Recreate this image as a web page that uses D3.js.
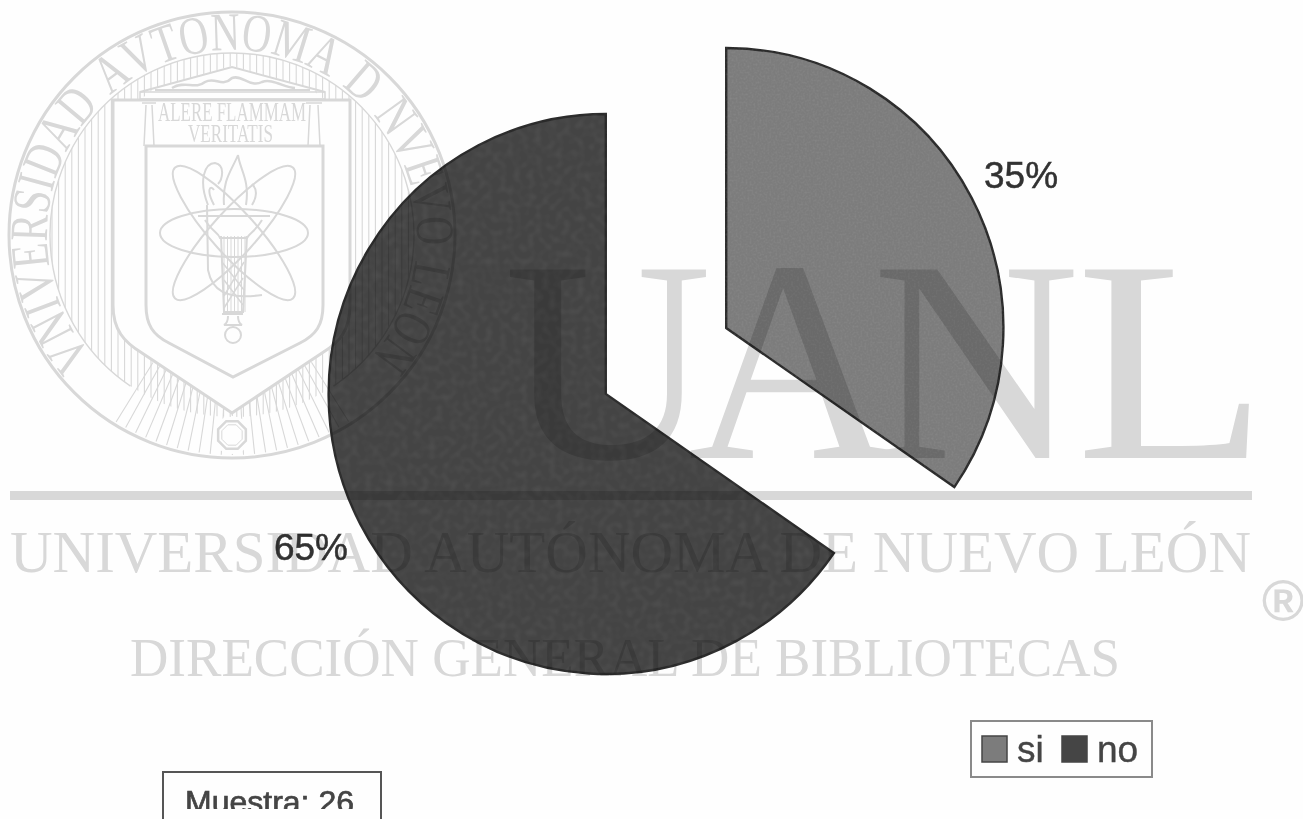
<!DOCTYPE html>
<html><head><meta charset="utf-8">
<script src="https://cdn.jsdelivr.net/npm/d3@7/dist/d3.min.js"></script>
<style>html,body{margin:0;padding:0;background:#fefefe;overflow:hidden}svg{display:block}</style>
</head><body><div id="c"></div>
<script>
const categories = ["si", "no"];
const values = [9, 17];
const colors = ["#7c7c7c", "#444444"];
const sampleLabel = "Muestra: 26";
const wmBig = ["U", "A", "N", "L"];
const wmBigX = [504, 688, 872, 1076];
const wmBigStretch = [1, 1, 1, 1.09];
const wmLine1 = "UNIVERSIDAD AUTÓNOMA DE NUEVO LEÓN";
const wmLine2 = "DIRECCIÓN GENERAL DE BIBLIOTECAS";
const sealRing = "VNIVERSIDAD AVTONOMA D NVEVO LEON";

const W = 1303, H = 819, WM = "#d9d9d9";
const serif = "'Liberation Serif','Times New Roman',serif";
const sans = "'Liberation Sans',Arial,sans-serif";
const svg = d3.select("#c").append("svg").attr("width", W).attr("height", H);
const defs = svg.append("defs");

function texture(id, freq, amp) {
  const f = defs.append("filter").attr("id", id).attr("x", "-2%").attr("y", "-2%").attr("width", "104%").attr("height", "104%")
    .attr("color-interpolation-filters", "sRGB");
  f.append("feTurbulence").attr("type", "fractalNoise").attr("baseFrequency", freq).attr("numOctaves", 1).attr("seed", 4).attr("result", "n");
  f.append("feColorMatrix").attr("in", "n").attr("type", "matrix")
    .attr("values", `0 0 0 0 1 0 0 0 0 1 0 0 0 0 1 ${amp} 0 0 0 ${-amp * 0.4}`).attr("result", "a");
  f.append("feComposite").attr("in", "a").attr("in2", "SourceGraphic").attr("operator", "in").attr("result", "t");
  const m = f.append("feMerge").attr("result", "merged");
  m.append("feMergeNode").attr("in", "SourceGraphic");
  m.append("feMergeNode").attr("in", "t");
  f.append("feGaussianBlur").attr("in", "merged").attr("stdDeviation", 0.7);
}
texture("texSi", 0.5, 0.16);
texture("texNo", 0.14, 0.12);
defs.append("filter").attr("id", "soft").append("feGaussianBlur").attr("stdDeviation", 0.6);

/* ---------- pie ---------- */
const cx = 666, cy = 361, radius = 280, squeeze = 0.99, explode = 68, explodeY = 1.044, labelR = 333, labelY = 0.988;
const total = d3.sum(values);
const pct = d3.format(".0%");
const pie = d3.pie().value(d => d).sort(null)(values);
const arc = d3.arc().innerRadius(0).outerRadius(radius);
const labelArc = d3.arc().innerRadius(labelR).outerRadius(labelR);
const chart = svg.append("g").attr("transform", `translate(${cx},${cy})`);
const off = d => {
  const a = (d.startAngle + d.endAngle) / 2;
  return [Math.sin(a) * explode, -Math.cos(a) * explode * explodeY];
};
const slices = chart.selectAll("g.slice").data(pie).join("g").attr("class", "slice")
  .attr("transform", d => `translate(${off(d)})`);
slices.append("path").attr("d", arc).attr("transform", `scale(${squeeze},1)`).attr("fill", (d, i) => colors[i])
  .attr("stroke", "#2a2a2a").attr("stroke-width", 2.4).attr("stroke-linejoin", "miter")
  .attr("filter", (d, i) => i ? "url(#texNo)" : "url(#texSi)");
slices.append("text").attr("transform", d => {
    const c = labelArc.centroid(d);
    return `translate(${c[0]},${c[1] * labelY})`;
  })
  .attr("text-anchor", "middle").attr("dy", "0.36em")
  .style("font", `37px ${sans}`).attr("fill", "#333").attr("stroke", "#333").attr("stroke-width", 0.5).attr("filter", "url(#soft)")
  .text(d => pct(d.value / total));

/* ---------- legend ---------- */
const legend = svg.append("g").attr("filter", "url(#soft)");
legend.append("rect").attr("x", 971).attr("y", 721).attr("width", 181).attr("height", 56)
  .attr("fill", "none").attr("stroke", "#8a8a8a").attr("stroke-width", 2);
const legendX = d3.scalePoint().domain(categories).range([982, 1062]);
const li = legend.selectAll("g.li").data(categories).join("g").attr("class", "li")
  .attr("transform", d => `translate(${legendX(d)},736)`);
li.append("rect").attr("width", 25).attr("height", 26).attr("fill", (d, i) => colors[i])
  .attr("stroke", "#444").attr("stroke-width", 1.5);
li.append("text").attr("x", 35).attr("y", 26).style("font", `37px ${sans}`).attr("fill", "#444").attr("stroke", "#444").attr("stroke-width", 0.4).text(d => d);

/* ---------- sample box ---------- */
defs.append("clipPath").attr("id", "sampleClip").append("rect").attr("x", 160).attr("y", 770).attr("width", 225).attr("height", 39);
const sample = svg.append("g").attr("filter", "url(#soft)");
sample.append("path").attr("d", "M163,819V772H381V819").attr("fill", "none").attr("stroke", "#555").attr("stroke-width", 2);
sample.append("g").attr("clip-path", "url(#sampleClip)").append("text").attr("x", 185).attr("y", 813)
  .style("font", `32px ${sans}`).attr("fill", "#444").attr("stroke", "#444").attr("stroke-width", 0.7).text(sampleLabel);

/* ---------- watermark (multiplied over everything) ---------- */
const wm = svg.append("g").style("mix-blend-mode", "multiply").attr("fill", WM);
wmBig.forEach((t, i) => {
  wm.append("text").attr("transform", `translate(${wmBigX[i]},458) scale(${wmBigStretch[i]},1)`).style("font", `288px ${serif}`).text(t);
});
wm.append("rect").attr("x", 10).attr("y", 491).attr("width", 1242).attr("height", 9);
wm.append("text").attr("x", 10).attr("y", 572).attr("textLength", 1241).attr("lengthAdjust", "spacingAndGlyphs")
  .style("font", `60px ${serif}`).text(wmLine1);
wm.append("text").attr("x", 130).attr("y", 676).attr("textLength", 990).attr("lengthAdjust", "spacingAndGlyphs")
  .style("font", `55px ${serif}`).text(wmLine2);
wm.append("text").attr("x", 1283).attr("y", 621).attr("text-anchor", "middle")
  .style("font", `bold 58px ${sans}`).text("®");

/* ---------- seal ---------- */
const sx = 232, sy = 235;
const seal = wm.append("g").attr("fill", "none").attr("stroke", WM);
const shieldOuter = `M113,100H350V305C350,330 340,342 322,353L232,413L142,353C124,342 113,330 113,305Z`;
const shieldInner = `M146,146H323V305C323,325 316,335 300,343L233,377L169,343C153,335 146,325 146,305Z`;
const mask = defs.append("mask").attr("id", "hatchMask").attr("maskUnits", "userSpaceOnUse")
  .attr("x", 0).attr("y", 0).attr("width", 480).attr("height", 480);
mask.append("rect").attr("width", 480).attr("height", 480).attr("fill", "#000");
mask.append("circle").attr("cx", sx).attr("cy", sy).attr("r", 182).attr("fill", "#fff");
mask.append("path").attr("d", shieldOuter).attr("fill", "#000");
mask.append("path").attr("d", "M140,100L155,88L232,66L310,88L325,100Z").attr("fill", "#000");
const mask2 = defs.append("mask").attr("id", "radialMask").attr("maskUnits", "userSpaceOnUse")
  .attr("x", 0).attr("y", 0).attr("width", 480).attr("height", 480);
mask2.append("rect").attr("width", 480).attr("height", 480).attr("fill", "#fff");
mask2.append("path").attr("d", shieldOuter).attr("fill", "#000");
mask2.append("circle").attr("cx", 232).attr("cy", 435).attr("r", 19).attr("fill", "#000");

seal.append("circle").attr("cx", sx).attr("cy", sy).attr("r", 223).attr("stroke-width", 3);
const ringArc = d3.arc().innerRadius(182).outerRadius(182).startAngle(-2.55).endAngle(2.55);
seal.append("path").attr("transform", `translate(${sx},${sy})`).attr("d", ringArc).attr("stroke-width", 1.4);
const hatch = seal.append("g").attr("mask", "url(#hatchMask)").attr("stroke-width", 1.1);
d3.range(52, 414, 6.6).forEach(x => hatch.append("line").attr("x1", x).attr("x2", x).attr("y1", 40).attr("y2", 420));
const radial = seal.append("g").attr("mask", "url(#radialMask)").attr("stroke-width", 1.1);
d3.range(148, 213, 2.9).forEach(a => {
  const r = a * Math.PI / 180;
  radial.append("line").attr("x1", sx + Math.sin(r) * 150).attr("y1", sy - Math.cos(r) * 150)
    .attr("x2", sx + Math.sin(r) * 220).attr("y2", sy - Math.cos(r) * 220);
});
seal.append("path").attr("d", shieldOuter).attr("stroke-width", 3);
seal.append("path").attr("d", shieldInner).attr("stroke-width", 3);
// temple
seal.append("path").attr("d", "M140,92L232,67L325,92M155,90H310").attr("stroke-width", 2);
seal.append("rect").attr("x", 140).attr("y", 92).attr("width", 185).attr("height", 7).attr("stroke-width", 1.5);
seal.append("path").attr("d", "M172,88C185,80 195,90 205,82C215,76 222,88 232,78C242,74 250,88 262,82C272,78 285,88 295,88").attr("stroke-width", 2.5);
[[144, 154], [308, 320]].forEach(c => {
  seal.append("path").attr("d", `M${c[0] + 2},105L${c[0]},146M${c[1] - 2},105L${c[1]},146M${c[0] - 2},103H${c[1] + 2}`).attr("stroke-width", 1.5);
});
wm.append("text").attr("x", 158).attr("y", 121).attr("textLength", 148).attr("lengthAdjust", "spacingAndGlyphs")
  .style("font", `27px ${serif}`).text("ALERE FLAMMAM");
wm.append("text").attr("x", 188).attr("y", 142).attr("textLength", 85).attr("lengthAdjust", "spacingAndGlyphs")
  .style("font", `25px ${serif}`).text("VERITATIS");
// atom
[0, 48, -48].forEach(a => seal.append("ellipse").attr("cx", 234).attr("cy", 233).attr("rx", a ? 88 : 74).attr("ry", a ? 22 : 24)
  .attr("transform", `rotate(${a} 234 233)`).attr("stroke-width", 2));
// torch
seal.append("path").attr("d", "M198,216H270M205,220C212,232 218,232 220,238H247C250,232 255,232 262,220").attr("stroke-width", 2);
seal.append("path").attr("d", "M221,236L224,312H243L247,236").attr("stroke-width", 2);
d3.range(224, 246, 3.5).forEach(x => seal.append("line").attr("x1", x).attr("x2", x).attr("y1", 236).attr("y2", 312).attr("stroke-width", 1));
seal.append("path").attr("d", "M222,262L244,290M244,262L224,296M224,280L243,305M243,278L224,308").attr("stroke-width", 1.5);
seal.append("path").attr("d", "M222,314H243M228,316C228,322 226,324 224,325H242C240,324 238,322 238,316").attr("stroke-width", 2);
seal.append("circle").attr("cx", 233).attr("cy", 335).attr("r", 8).attr("stroke-width", 2);
seal.append("path").attr("d", "M238,155C232,170 222,180 224,205M238,155C240,170 250,180 246,205M214,205C206,190 210,184 214,190M252,205C258,195 256,188 252,184").attr("stroke-width", 2);
seal.append("path").attr("d", "M208,205C198,180 205,163 215,163C226,165 222,180 218,184M207,205L208,270C212,290 225,300 262,295").attr("stroke-width", 2);
// octagon
const oct = d3.lineRadial().curve(d3.curveLinearClosed).radius(15).angle(d => d);
const octA = d3.range(8).map(i => Math.PI / 8 + i * Math.PI / 4);
seal.append("path").attr("transform", "translate(232,435)").attr("d", oct(octA)).attr("stroke-width", 2.5);
seal.append("path").attr("transform", "translate(232,435)").attr("d", oct.radius(11)(octA)).attr("stroke-width", 1);
// ring lettering, one glyph at a time so the tall letters follow the arc
const a0 = -131, a1 = 131, rt = 185;
const ringG = wm.append("g").style("font", `54px ${serif}`);
const probe = ringG.append("text");
const widths = Array.from(sealRing).map(c => {
  probe.text(c === " " ? "n" : c);
  return probe.node().getComputedTextLength() * (c === " " ? 0.7 : 1);
});
probe.remove();
const totalW = d3.sum(widths);
const kx = (a1 - a0) * Math.PI / 180 * rt / totalW;
let run = 0;
Array.from(sealRing).forEach((c, i) => {
  const mid = run + widths[i] / 2;
  run += widths[i];
  if (c === " ") return;
  const ang = a0 + (a1 - a0) * mid / totalW;
  ringG.append("text").attr("text-anchor", "middle")
    .attr("transform", `translate(${sx},${sy}) rotate(${ang}) translate(0,${-rt}) scale(${kx},1)`).text(c);
});
</script></body></html>
